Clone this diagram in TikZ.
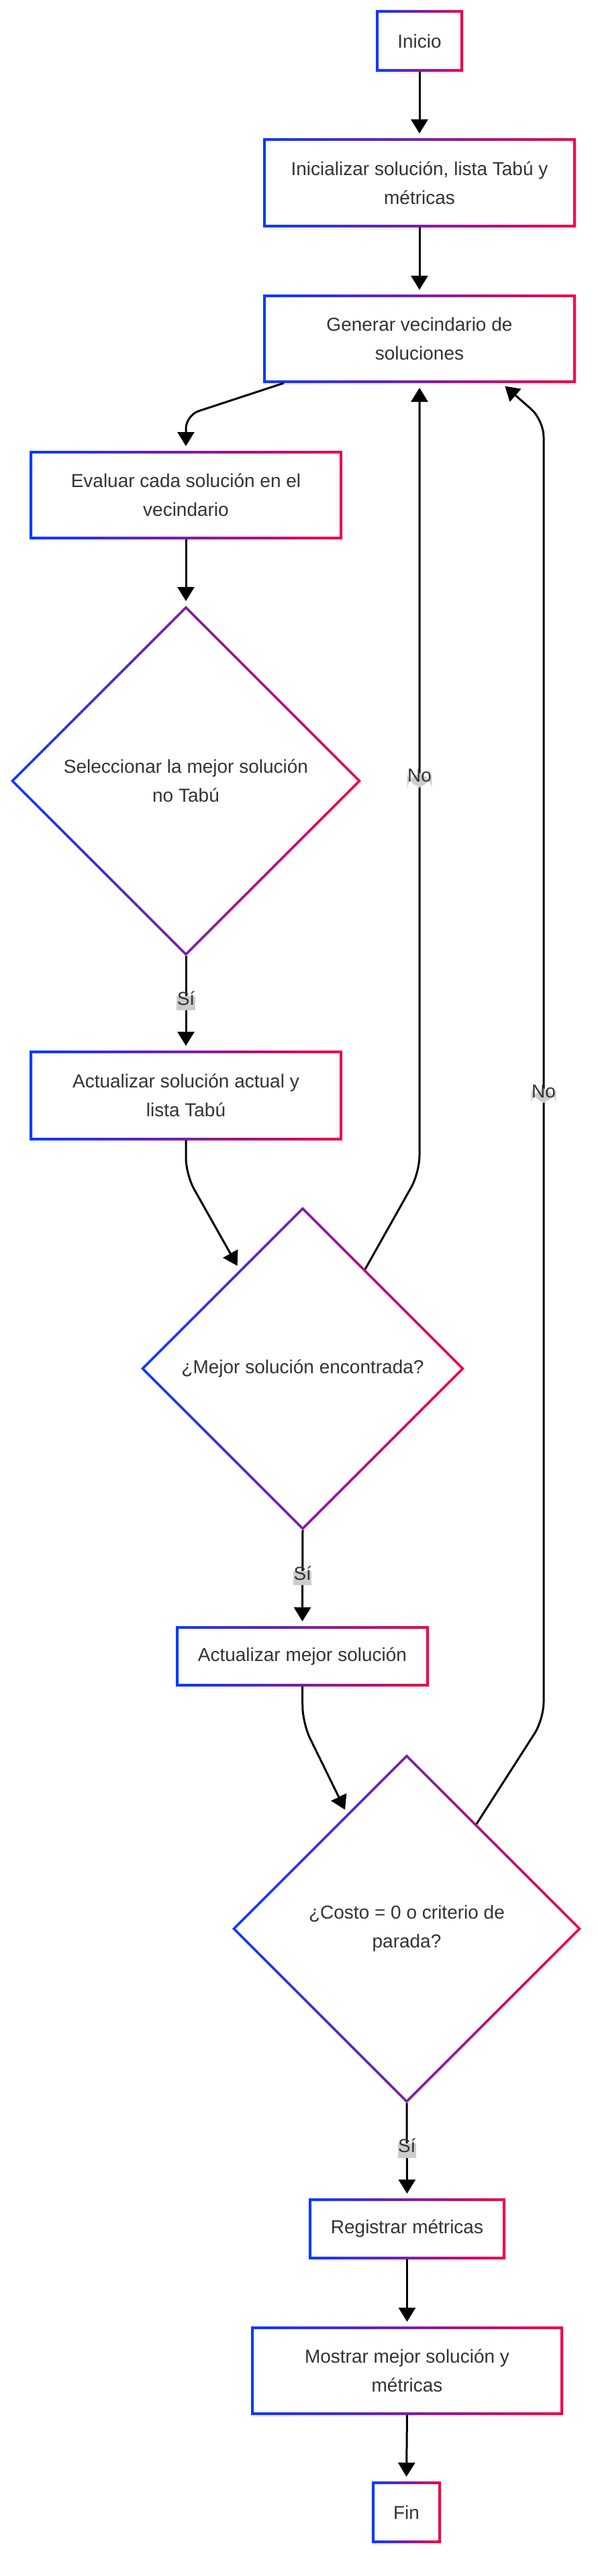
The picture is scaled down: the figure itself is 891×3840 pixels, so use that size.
\documentclass[tikz,border=0pt]{standalone}
\usepackage{fontspec}
\setmainfont{Liberation Sans}
\usepackage{xcolor}
\usetikzlibrary{
	shapes.geometric,   %rombos
	calc,               %puntos sobre los bordes
	arrows.meta,        %puntas de flecha
	backgrounds         %marcos detras del texto
}
\definecolor{mmblue}{RGB}{8,58,255}
\definecolor{mmred}{RGB}{240,0,75}
\definecolor{txtgray}{RGB}{51,51,51}
\definecolor{lblgray}{RGB}{204,204,204}
\newcommand{\letra}{\fontsize{28pt}{43pt}\selectfont}
\tikzstyle{caja}=[rectangle,
minimum width=466pt,
minimum height=132pt,
inner sep=0pt, outer sep=0pt,
align=center, text=txtgray, font=\letra]
\tikzset{
	decision/.style={diamond, aspect=1, inner sep=0pt, outer sep=0pt,
		align=center, text=txtgray, font=\letra},
	flecha/.style={->, line width=3pt, shorten >=7pt},
	etiqueta/.style={fill=lblgray, inner xsep=0.5pt, inner ysep=5.5pt,
		text height=0.8em, text depth=0.25em, text=txtgray, font=\letra}
}
\tikzset{
	every picture/.style={
		>={Triangle[width=25pt,length=21pt]}
}}
% borde degradado de una caja
\newcommand{\marcograd}[1]{%
	\fill[black!6] ([shift={(2pt,-3pt)}]#1.south west) rectangle ([shift={(2pt,-3pt)}]#1.north east);
	\fill[white] (#1.south west) rectangle (#1.north east);
	\shade[left color=mmblue, right color=mmred, even odd rule]
	(#1.south west) rectangle (#1.north east)
	([shift={(4pt,4pt)}]#1.south west) rectangle ([shift={(-4pt,-4pt)}]#1.north east);}
% borde degradado de un rombo
\newcommand{\rombograd}[1]{%
	\fill[black!6] ([shift={(2pt,-3pt)}]#1.north) -- ([shift={(2pt,-3pt)}]#1.east) -- ([shift={(2pt,-3pt)}]#1.south) -- ([shift={(2pt,-3pt)}]#1.west) -- cycle;
	\fill[white] (#1.north) -- (#1.east) -- (#1.south) -- (#1.west) -- cycle;
	\shade[left color=mmblue, right color=mmred, even odd rule]
	(#1.north) -- (#1.east) -- (#1.south) -- (#1.west) -- cycle
	([yshift=-5pt]#1.north) -- ([xshift=-5pt]#1.east) -- ([yshift=5pt]#1.south) -- ([xshift=5pt]#1.west) -- cycle;}

\begin{document}
\begin{tikzpicture}[x=1pt, y=-1pt]
	\path[use as bounding box] (0,0) rectangle (891,3840);
	
	\node (inicio) at (625,61) [caja, minimum width=130pt, minimum height=92pt] {Inicio};
	\node (inicializar) at (625,272.5) [caja, minimum height=133pt] {Inicializar solución, lista Tabú y\\métricas};
	\node (generar) at (625,505) [caja] {Generar vecindario de\\soluciones};
	\node (evaluar) at (277,738) [caja] {Evaluar cada solución en el\\vecindario};
	\node (seleccionar) at (277,1164) [decision, minimum size=522pt] {Seleccionar la mejor solución\\no Tabú};
	\node (actualizar) at (277,1633) [caja, minimum height=134pt] {Actualizar solución actual y\\lista Tabú};
	\node (mejor) at (451,2040) [decision, minimum size=482pt] {¿Mejor solución encontrada?};
	\node (actmejor) at (450.5,2469) [caja, minimum width=377pt, minimum height=90pt] {Actualizar mejor solución};
	\node (costo) at (606,2875) [decision, minimum size=520pt] {¿Costo = 0 o criterio de\\parada?};
	\node (registrar) at (606.5,3322.5) [caja, minimum width=293pt, minimum height=91pt] {Registrar métricas};
	\node (mostrar) at (606.5,3534) [caja, minimum width=465pt] {Mostrar mejor solución y\\métricas};
	\node (fin) at (605.5,3745) [caja, minimum width=103pt, minimum height=92pt] {Fin};
	
	\begin{pgfonlayer}{background}
		\fill[white] (0,0) rectangle (891,3840);
		\foreach \n in {inicio,inicializar,generar,evaluar,actualizar,actmejor,registrar,mostrar,fin}
		{\marcograd{\n}}
		\foreach \n in {seleccionar,mejor,costo}
		{\rombograd{\n}}
	\end{pgfonlayer}
	
	% esquinas de los conectores
	\coordinate (c1) at (277,619);
	\coordinate (c2) at (625,1748);
	\coordinate (c3) at (277,1751);
	\coordinate (c4) at (810,2563);
	\coordinate (c5) at (810,626);
	\coordinate (c6) at (451,2569);
	
	\draw[flecha] (inicio.south) -- (inicializar.north);
	\draw[flecha] (inicializar.south) -- (generar.north);
	\draw[flecha, rounded corners=20pt] ([xshift=31pt]generar.south west) -- (c1) -- (evaluar.north);
	\draw[flecha] (evaluar.south) -- (seleccionar.north);
	\draw[flecha] (seleccionar.south) -- node[etiqueta] (si1) {Sí} (actualizar.north);
	\draw[flecha, rounded corners=25pt] (actualizar.south) -- (c3) -- ($(mejor.north)!0.39!(mejor.west)$);
	\draw[flecha, rounded corners=25pt] ($(mejor.north)!0.386!(mejor.east)$) -- (c2) -- (generar.south) node[etiqueta, pos=0.497] (no1) {No};
	\draw[flecha] (mejor.south) -- node[etiqueta] (si2) {Sí} (actmejor.north);
	\draw[flecha, rounded corners=25pt] (actmejor.south) -- (c6) -- ($(costo.north)!0.342!(costo.west)$);
	\draw[flecha, rounded corners=25pt] ($(costo.north)!0.4!(costo.east)$) -- (c4) -- (c5) node[etiqueta, pos=0.48] (no2) {No} -- ([xshift=-111pt]generar.south east);
	\draw[flecha] (costo.south) -- node[etiqueta] (si3) {Sí} (registrar.north);
	\draw[flecha] (registrar.south) -- (mostrar.north);
	\draw[flecha] (mostrar.south) -- (fin.north);
\end{tikzpicture}
\end{document}
